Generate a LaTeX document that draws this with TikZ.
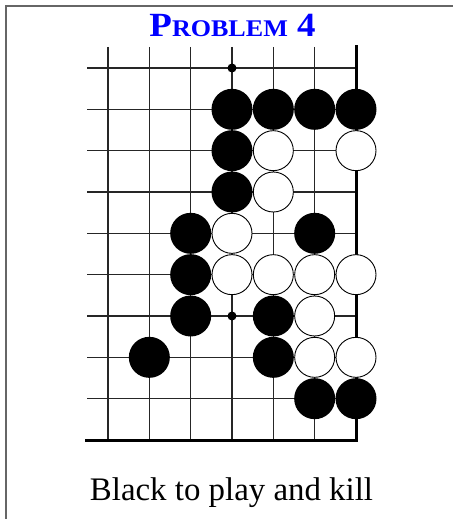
\documentclass[tikz,border=0pt]{standalone}
\usepackage{fontspec}
\setmainfont{Liberation Serif}
\begin{document}
\begin{tikzpicture}[x=1bp,y=-1bp,
  gridline/.style={line width=1.1bp, black!85},
  edgeline/.style={line width=3bp, black, line cap=rect},
  frameline/.style={line width=2bp, black!60},
  bstone/.style={circle, fill=black, minimum size=41bp, inner sep=0pt, outer sep=0pt},
  wstone/.style={circle, fill=white, draw=black, line width=0.9bp, minimum size=40bp, inner sep=0pt, outer sep=0pt},
  hoshi/.style={circle, fill=black, minimum size=9bp, inner sep=0pt},
  titletext/.style={text=blue, font=\bfseries, anchor=base},
  captiontext/.style={font=\fontsize{33}{40}\selectfont, anchor=base},
]
\useasboundingbox (0,0) rectangle (453,519);
% frame
\draw[frameline] (6,519) -- (6,6.5) -- (453,6.5);
% grid
\foreach \i in {0,...,5}
  \draw[gridline] (108+\i*41.333,47) -- (108+\i*41.333,440);
\foreach \j in {0,...,8}
  \draw[gridline] (87,68+\j*41.333) -- (356,68+\j*41.333);
\draw[edgeline] (356,47) -- (356,440) -- (86,440);
% star points
\node[hoshi] (h1) at (232,68) {};
\node[hoshi] (h2) at (232,316) {};
% black stones
\foreach \c/\r [count=\k] in {3/1,4/1,5/1,6/1,3/2,3/3,2/4,5/4,2/5,2/6,4/6,1/7,4/7,5/8,6/8}
  \node[bstone] (b\k) at (108+\c*41.333,68+\r*41.333) {};
% white stones
\foreach \c/\r [count=\k] in {4/2,6/2,4/3,3/4,3/5,4/5,5/5,6/5,5/6,5/7,6/7}
  \node[wstone] (w\k) at (108+\c*41.333,68+\r*41.333) {};
% texts
\node[titletext] (title) at (232.5,37) {\scalebox{1.09}[1]{\fontsize{34}{40}\selectfont P{\fontsize{24}{30}\selectfont ROBLEM} 4}};
\node[captiontext] (caption) at (231.5,500) {Black to play and kill};
\end{tikzpicture}
\end{document}
